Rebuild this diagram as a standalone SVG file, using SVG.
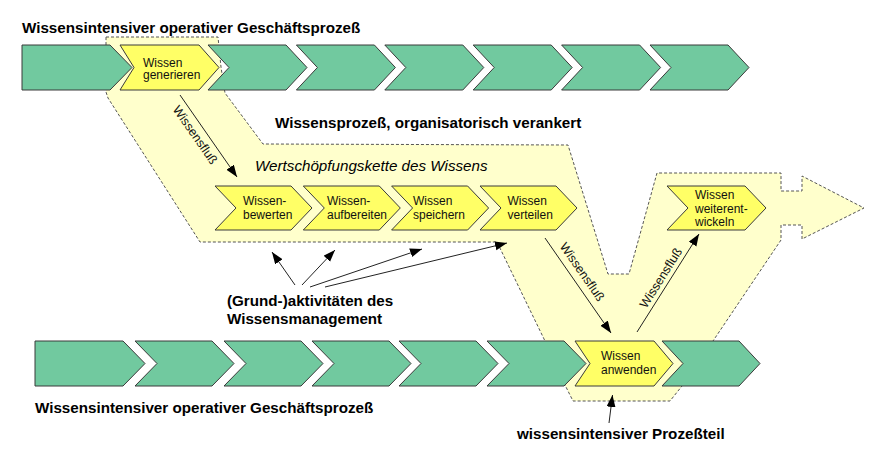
<svg xmlns="http://www.w3.org/2000/svg" width="873" height="455" viewBox="0 0 873 455">
<defs>
<style>
.g{fill:#71C99F;stroke:#3a3a3a;stroke-width:1}
.y{fill:#FFFF66;stroke:#3a3a3a;stroke-width:1}
.reg{fill:#FFFFCC;stroke:#555;stroke-width:1;stroke-dasharray:3 2}
.t{font-family:"Liberation Sans",Arial,sans-serif;font-size:12px;fill:#111}
.b{font-family:"Liberation Sans",Arial,sans-serif;font-size:15.2px;font-weight:bold;fill:#000}
.i{font-family:"Liberation Sans",Arial,sans-serif;font-size:15.2px;font-style:italic;fill:#000}
.f{font-family:"Liberation Sans",Arial,sans-serif;font-size:12.5px;fill:#111}
.c{stroke:#222;stroke-width:1;fill:none;marker-end:url(#ah)}
</style>
<marker id="ah" markerUnits="userSpaceOnUse" markerWidth="13" markerHeight="10" refX="12" refY="4.5" orient="auto">
<path d="M0,0 L12,4.5 L0,9 z" fill="#000"/>
</marker>
</defs>
<rect width="873" height="455" fill="#fff"/>

<g id="region">
<polygon class="reg" points="106,37 218,37 221,67 225,93 263,144 568,145 608,274 629,274 657,173 781,173 781,191 802,191 802,176 864,208 802,239 802,225 781,225 781,240 713,341 682,386 670,401 573,401 565,385 545,341 497,242 200,242 108,98 106,92"/>
</g>

<g id="top-row">
<polygon class="g" points="22,45 110,45 132,67.5 110,90 22,90"/>
<polygon class="g" points="208,45 286,45 307,67.5 286,90 208,90 229,67.5"/>
<polygon class="g" points="296.4,45 374.4,45 395.4,67.5 374.4,90 296.4,90 317.4,67.5"/>
<polygon class="g" points="384.8,45 462.8,45 483.8,67.5 462.8,90 384.8,90 405.8,67.5"/>
<polygon class="g" points="473.2,45 551.2,45 572.2,67.5 551.2,90 473.2,90 494.2,67.5"/>
<polygon class="g" points="561.6,45 639.6,45 660.6,67.5 639.6,90 561.6,90 582.6,67.5"/>
<polygon class="g" points="650,45 728,45 749,67.5 728,90 650,90 671,67.5"/>
</g>

<g id="bottom-row">
<polygon class="g" points="35,341 123,341 145,363.5 123,386 35,386"/>
<polygon class="g" points="135,341 212,341 234,363.5 212,386 135,386 157,363.5"/>
<polygon class="g" points="224,341 301,341 323,363.5 301,386 224,386 246,363.5"/>
<polygon class="g" points="312,341 389,341 411,363.5 389,386 312,386 334,363.5"/>
<polygon class="g" points="399,341 476,341 498,363.5 476,386 399,386 421,363.5"/>
<polygon class="g" points="487,341 564,341 586,363.5 564,386 487,386 509,363.5"/>
<polygon class="g" points="662,341 739,341 760,363.5 739,386 662,386 683,363.5"/>
</g>

<g id="wissen-generieren">
<polygon class="y" points="120,45 199,45 219,67.5 199,90 120,90 134,67.5"/>
<text class="t" x="143" y="66.5">Wissen</text>
<text class="t" x="143" y="79">generieren</text>
</g>

<g id="wissen-bewerten">
<polygon class="y" points="215,186 291,186 312,208 291,230 215,230 236,208"/>
<text class="t" x="243" y="205">Wissen-</text>
<text class="t" x="243" y="219">bewerten</text>
</g>

<g id="wissen-aufbereiten">
<polygon class="y" points="303.3,186 379.3,186 400.3,208 379.3,230 303.3,230 324.3,208"/>
<text class="t" x="327" y="205">Wissen-</text>
<text class="t" x="327" y="219">aufbereiten</text>
</g>

<g id="wissen-speichern">
<polygon class="y" points="391.6,186 467.6,186 488.6,208 467.6,230 391.6,230 412.6,208"/>
<text class="t" x="413" y="205">Wissen</text>
<text class="t" x="413" y="219">speichern</text>
</g>

<g id="wissen-verteilen">
<polygon class="y" points="480,186 556,186 577,208 556,230 480,230 501,208"/>
<text class="t" x="507.5" y="205">Wissen</text>
<text class="t" x="507.5" y="219">verteilen</text>
</g>

<g id="wissen-weiterentwickeln">
<polygon class="y" points="667,186 745,186 766,208 745,230 667,230 688,208"/>
<text class="t" x="695" y="199">Wissen</text>
<text class="t" x="695" y="212.5">weiterent-</text>
<text class="t" x="695" y="226">wickeln</text>
</g>

<g id="wissen-anwenden">
<polygon class="y" points="575,341 654,341 673,363.5 654,386 575,386 590,363.5"/>
<text class="t" x="601" y="360">Wissen</text>
<text class="t" x="601" y="374">anwenden</text>
</g>

<g id="labels">
<text class="b" x="22" y="32.5">Wissensintensiver operativer Geschäftsprozeß</text>
<text class="b" x="35" y="413">Wissensintensiver operativer Geschäftsprozeß</text>
<text class="b" x="275" y="127.5">Wissensprozeß, organisatorisch verankert</text>
<text class="i" x="255" y="171">Wertschöpfungskette des Wissens</text>
<text class="b" x="227" y="306">(Grund-)aktivitäten des</text>
<text class="b" x="227" y="323.5">Wissensmanagement</text>
<text class="b" x="517" y="439">wissensintensiver Prozeßteil</text>
</g>

<g id="connectors">
<line class="c" x1="180" y1="95" x2="237" y2="177"/>
<line class="c" x1="545" y1="238" x2="611" y2="333"/>
<line class="c" x1="637" y1="332" x2="699" y2="234"/>
<line class="c" x1="295" y1="285" x2="272" y2="252"/>
<line class="c" x1="302" y1="285" x2="335" y2="250"/>
<line class="c" x1="310" y1="287" x2="422" y2="249"/>
<line class="c" x1="325" y1="287" x2="507" y2="243"/>
<line class="c" x1="609" y1="423" x2="612.5" y2="395"/>
<text class="f" text-anchor="middle" transform="translate(195,135) rotate(55)" y="4">Wissensfluß</text>
<text class="f" text-anchor="middle" transform="translate(582,272) rotate(55)" y="4">Wissensfluß</text>
<text class="f" text-anchor="middle" transform="translate(661,278) rotate(-58)" y="4">Wissensfluß</text>
</g>
</svg>
